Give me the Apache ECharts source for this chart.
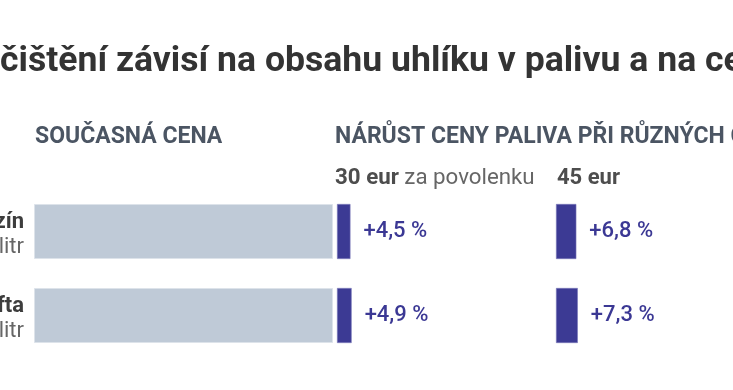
<!DOCTYPE html>
<html><head><meta charset="utf-8">
<script src="https://cdn.jsdelivr.net/npm/echarts@6/dist/echarts.min.js"></script>
<style>html,body{margin:0;padding:0;background:#fff}#c{width:733px;height:390px}</style>
</head><body><div id="c"></div>
<script>
const categories = ['Benzín', 'Nafta'];
const unitLabels = ['za litr', 'za litr'];
const currentPrice = [100, 100];
const rise30 = [4.5, 4.9];
const rise45 = [6.8, 7.3];
const titleText = 'čištění závisí na obsahu uhlíku v palivu a na ceně povolenky';
const header1 = 'SOUČASNÁ CENA';
const header2 = 'NÁRŮST CENY PALIVA PŘI RŮZNÝCH CENÁCH POVOLENEK';

const FONT = 'Roboto';
const pxPerUnit = 2.99;
const gridTop = 189.5, gridH = 168;
function grid(left, max) { return { left: left, top: gridTop, width: max * pxPerUnit, height: gridH, containLabel: false }; }
const grids = [grid(34, 100), grid(337, 20), grid(556, 20)];
const maxes = [100, 20, 20];

const chart = echarts.init(document.getElementById('c'), null, { renderer: 'canvas' });
const pctFmt = p => '+' + p.value.toFixed(1).replace('.', ',') + ' %';
const labelStyle = { show: true, position: 'right', distance: 13, formatter: pctFmt, color: '#3b3894', fontFamily: FONT, fontSize: 22, fontWeight: 500 };

const graphics = [
  { type: 'text', x: 0, y: 62, style: { text: titleText, font: 'bold 35.6px ' + FONT, fill: '#333333', textVerticalAlign: 'middle' } },
  { type: 'text', x: 35, y: 137, style: { text: header1, font: 'bold 23px ' + FONT, fill: '#4b5563', textVerticalAlign: 'middle' } },
  { type: 'text', x: 335, y: 137, style: { text: header2, font: 'bold 23px ' + FONT, fill: '#4b5563', textVerticalAlign: 'middle' } },
  { type: 'text', x: 335, y: 178, style: { text: '{b|30 eur} za povolenku', font: '22.3px ' + FONT, fill: '#666666', textVerticalAlign: 'middle', rich: { b: { fontWeight: 'bold', fontSize: 22.3, fontFamily: FONT, fill: '#4d4d4d', color: '#4d4d4d' } } } },
  { type: 'text', x: 557, y: 178, style: { text: '45 eur', font: 'bold 22px ' + FONT, fill: '#4d4d4d', textVerticalAlign: 'middle' } }
];
categories.forEach((c, i) => {
  const cy = gridTop + gridH / categories.length * (i + 0.5);
  graphics.push({ type: 'text', x: 24, y: cy - 9, style: { text: c, font: 'bold 22px ' + FONT, fill: '#3d3d3d', textAlign: 'right', textVerticalAlign: 'middle' } });
  graphics.push({ type: 'text', x: 24, y: cy + 16, style: { text: unitLabels[i], font: '22px ' + FONT, fill: '#666666', textAlign: 'right', textVerticalAlign: 'middle' } });
});

const option = {
  animation: false,
  grid: grids,
  xAxis: grids.map((g, i) => ({ type: 'value', gridIndex: i, min: 0, max: maxes[i], show: false })),
  yAxis: grids.map((g, i) => ({ type: 'category', gridIndex: i, data: categories, inverse: true, show: false })),
  graphic: graphics,
  series: [
    { type: 'bar', xAxisIndex: 0, yAxisIndex: 0, data: currentPrice, barWidth: 55, itemStyle: { color: '#bfcad7', borderColor: '#dde3ea', borderWidth: 1 }, silent: true },
    { type: 'bar', xAxisIndex: 1, yAxisIndex: 1, data: rise30, barWidth: 55, itemStyle: { color: '#3c3a94', borderColor: '#7a78b8', borderWidth: 0.6 }, label: labelStyle },
    { type: 'bar', xAxisIndex: 2, yAxisIndex: 2, data: rise45, barWidth: 55, itemStyle: { color: '#3c3a94', borderColor: '#7a78b8', borderWidth: 0.6 }, label: labelStyle }
  ]
};
chart.setOption(option);
</script></body></html>
